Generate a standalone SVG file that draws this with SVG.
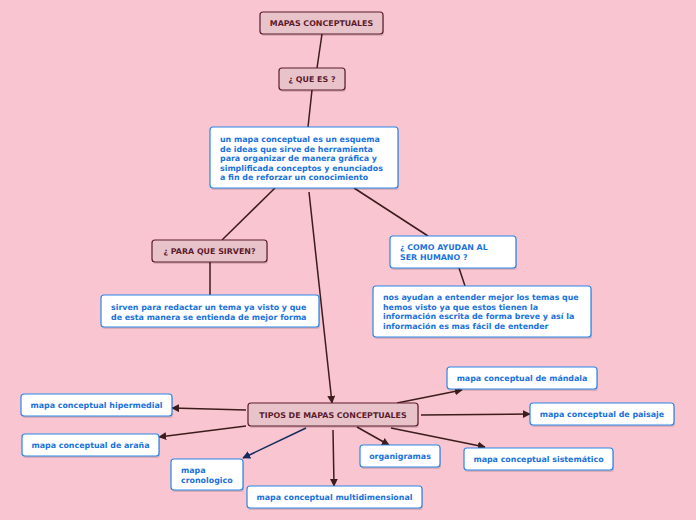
<svg xmlns="http://www.w3.org/2000/svg" width="696" height="520" viewBox="0 0 696 520">
<defs>
<style>
.bg{fill:#f9c5d0}
.dark rect.b{fill:#e8c4ca;stroke:#5c1a2c;stroke-width:1.2}
.light rect.b{fill:#ffffff;stroke:#2a86e8;stroke-width:1.2}
rect.s{fill:#000;opacity:0.12}
text{font-family:"DejaVu Sans","Verdana",sans-serif;font-weight:bold;font-size:7.9px}
.dark text{fill:#5c1a2c}
.light text{fill:#1a72dc}
.c line{stroke:#3d1c1c;stroke-width:1.5;fill:none}
.c line.a{marker-end:url(#ah)}
.c line.n{stroke:#152a5c;marker-end:url(#ahn)}
</style>
<marker id="ah" viewBox="0 0 10 10" refX="9" refY="5" markerWidth="8" markerHeight="8" markerUnits="userSpaceOnUse" orient="auto"><path d="M0,0 L10,5 L0,10 z" fill="#3d1c1c"/></marker>
<marker id="ahn" viewBox="0 0 10 10" refX="9" refY="5" markerWidth="8" markerHeight="8" markerUnits="userSpaceOnUse" orient="auto"><path d="M0,0 L10,5 L0,10 z" fill="#152a5c"/></marker>
</defs>
<rect class="bg" x="0" y="0" width="696" height="520"/>
<g class="c" id="connectors">
<line x1="322" y1="34" x2="317" y2="68"/>
<line x1="312" y1="90" x2="308" y2="127"/>
<line x1="275" y1="188" x2="222" y2="240"/>
<line x1="354" y1="188" x2="428" y2="236"/>
<line x1="210" y1="262" x2="210" y2="295"/>
<line x1="459" y1="268" x2="465" y2="286"/>
<line class="a" x1="309" y1="192" x2="332" y2="403"/>
<line class="a" x1="246" y1="410" x2="172" y2="408"/>
<line class="a" x1="246" y1="426" x2="159" y2="437"/>
<line class="n" x1="306" y1="428" x2="243" y2="458"/>
<line class="a" x1="333" y1="430" x2="334" y2="486"/>
<line class="a" x1="357" y1="427" x2="389" y2="445"/>
<line class="a" x1="391" y1="428" x2="485" y2="447"/>
<line class="a" x1="397" y1="403" x2="462" y2="390"/>
<line class="a" x1="421" y1="415" x2="530" y2="414"/>
</g>
<g id="n1" class="dark"><rect class="s" x="261" y="14" width="123" height="22" rx="3"/><rect class="b" x="260" y="12" width="123" height="22" rx="3"/><text x="321.5" y="26" text-anchor="middle">MAPAS CONCEPTUALES</text></g>
<g id="n2" class="dark"><rect class="s" x="280" y="70" width="66" height="22" rx="3"/><rect class="b" x="279" y="68" width="66" height="22" rx="3"/><text x="312" y="82" text-anchor="middle">¿ QUE ES ?</text></g>
<g id="n3" class="light"><rect class="s" x="211" y="129" width="188" height="61" rx="3"/><rect class="b" x="210" y="127" width="188" height="61" rx="3"/>
<text x="220" y="142">un mapa conceptual es un esquema</text>
<text x="220" y="151.5">de ideas que sirve de herramienta</text>
<text x="220" y="161">para organizar de manera gráfica y</text>
<text x="220" y="170.5">simplificada conceptos y enunciados</text>
<text x="220" y="180">a fin de reforzar un conocimiento</text></g>
<g id="n4" class="dark"><rect class="s" x="153" y="242" width="115" height="22" rx="3"/><rect class="b" x="152" y="240" width="115" height="22" rx="3"/><text x="209.5" y="254" text-anchor="middle">¿ PARA QUE SIRVEN?</text></g>
<g id="n5" class="light"><rect class="s" x="102" y="297" width="218" height="32" rx="3"/><rect class="b" x="101" y="295" width="218" height="32" rx="3"/>
<text x="111" y="310">sirven para redactar un tema ya visto y que</text>
<text x="111" y="319.5">de esta manera se entienda de mejor forma</text></g>
<g id="n6" class="light"><rect class="s" x="391" y="238" width="126" height="32" rx="3"/><rect class="b" x="390" y="236" width="126" height="32" rx="3"/>
<text x="400" y="250">¿ COMO AYUDAN AL</text>
<text x="400" y="260">SER HUMANO ?</text></g>
<g id="n7" class="light"><rect class="s" x="374" y="288" width="218" height="51" rx="3"/><rect class="b" x="373" y="286" width="218" height="51" rx="3"/>
<text x="383" y="300">nos ayudan a entender mejor los temas que</text>
<text x="383" y="309.5">hemos visto ya que estos tienen la</text>
<text x="383" y="319">información escrita de forma breve y así la</text>
<text x="383" y="328.5">información es mas fácil de entender</text></g>
<g id="n8" class="dark"><rect class="s" x="249" y="405" width="170" height="23" rx="3"/><rect class="b" x="248" y="403" width="170" height="23" rx="3"/><text x="333" y="417.5" text-anchor="middle">TIPOS DE MAPAS CONCEPTUALES</text></g>
<g id="n9" class="light"><rect class="s" x="22" y="396" width="151" height="22" rx="3"/><rect class="b" x="21" y="394" width="151" height="22" rx="3"/><text x="96.5" y="408" text-anchor="middle">mapa conceptual hipermedial</text></g>
<g id="n10" class="light"><rect class="s" x="23" y="436" width="137" height="22" rx="3"/><rect class="b" x="22" y="434" width="137" height="22" rx="3"/><text x="90.5" y="448" text-anchor="middle">mapa conceptual de araña</text></g>
<g id="n11" class="light"><rect class="s" x="172" y="461" width="72" height="31" rx="3"/><rect class="b" x="171" y="459" width="72" height="31" rx="3"/>
<text x="181" y="473">mapa</text>
<text x="181" y="483">cronologico</text></g>
<g id="n12" class="light"><rect class="s" x="248" y="488" width="175" height="22" rx="3"/><rect class="b" x="247" y="486" width="175" height="22" rx="3"/><text x="334.5" y="500" text-anchor="middle">mapa conceptual multidimensional</text></g>
<g id="n13" class="light"><rect class="s" x="361" y="447" width="80" height="22" rx="3"/><rect class="b" x="360" y="445" width="80" height="22" rx="3"/><text x="400" y="459" text-anchor="middle">organigramas</text></g>
<g id="n14" class="light"><rect class="s" x="465" y="450" width="149" height="22" rx="3"/><rect class="b" x="464" y="448" width="149" height="22" rx="3"/><text x="538.5" y="462" text-anchor="middle">mapa conceptual sistemático</text></g>
<g id="n15" class="light"><rect class="s" x="448" y="369" width="150" height="22" rx="3"/><rect class="b" x="447" y="367" width="150" height="22" rx="3"/><text x="522" y="381" text-anchor="middle">mapa conceptual de mándala</text></g>
<g id="n16" class="light"><rect class="s" x="531" y="405" width="144" height="22" rx="3"/><rect class="b" x="530" y="403" width="144" height="22" rx="3"/><text x="602" y="417" text-anchor="middle">mapa conceptual de paisaje</text></g>
</svg>
